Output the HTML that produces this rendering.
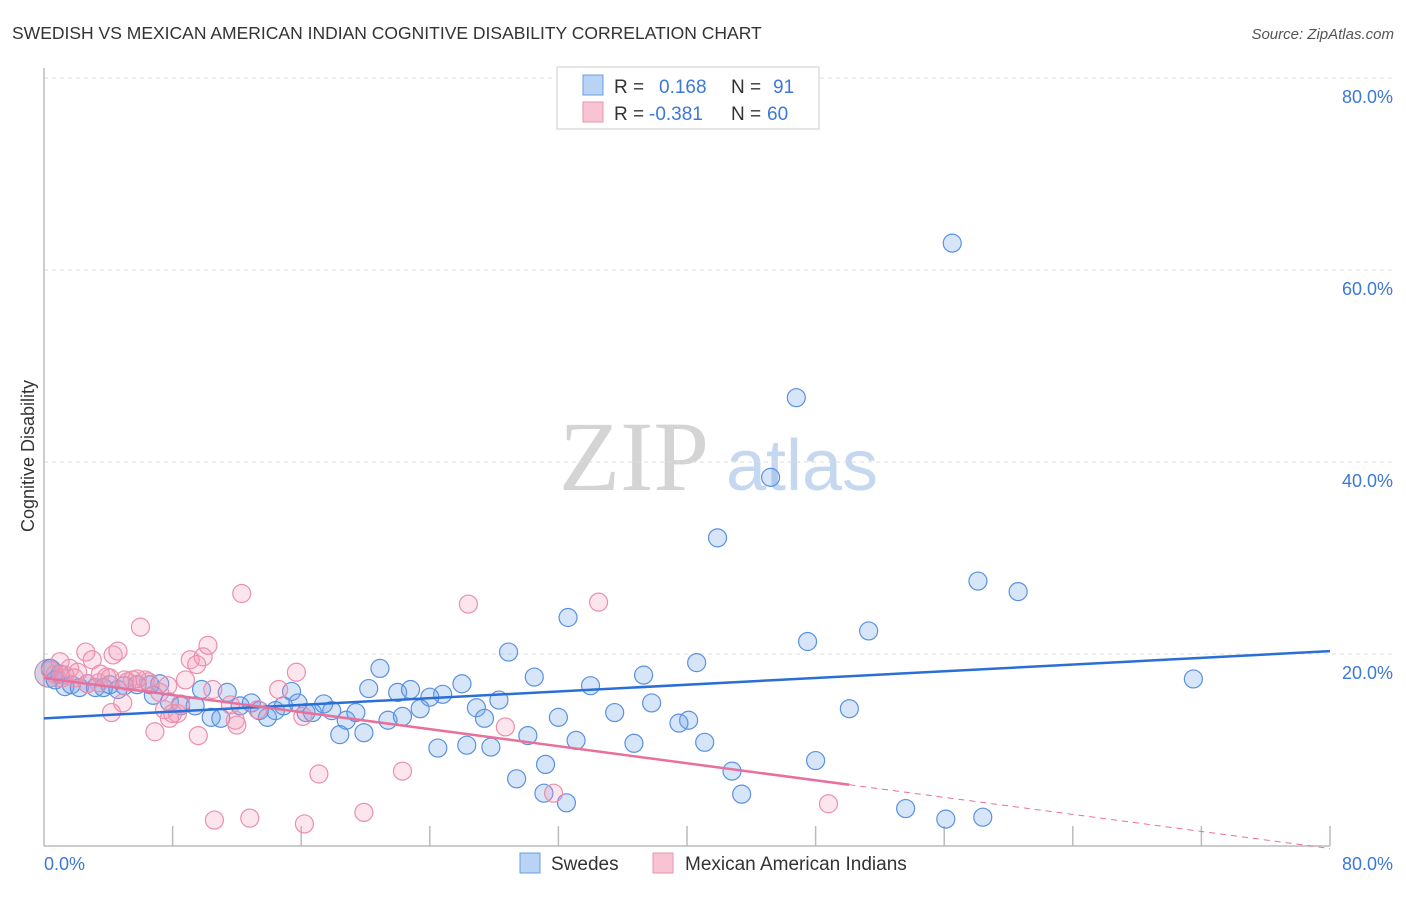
<!DOCTYPE html>
<html><head><meta charset="utf-8"><style>
body{margin:0;background:#fff;font-family:"Liberation Sans",sans-serif;}
svg text{font-family:"Liberation Sans",sans-serif;}
</style></head><body>
<svg id="chart" width="1406" height="892" viewBox="0 0 1406 892" xmlns="http://www.w3.org/2000/svg">
<text x="12" y="39" font-size="17.5" fill="#333">SWEDISH VS MEXICAN AMERICAN INDIAN COGNITIVE DISABILITY CORRELATION CHART</text>
<text x="1394" y="39" font-size="15" fill="#555" text-anchor="end" font-style="italic">Source: ZipAtlas.com</text>
<g>
<text x="634" y="490" font-size="100" fill="#d4d4d4" text-anchor="middle" style="font-family:'Liberation Serif',serif">ZIP</text>
<text x="802" y="490" font-size="72" fill="#c5d8f0" text-anchor="middle">atlas</text>
</g>
<g id="grid"></g>
<g id="axes"></g>
<g id="pts"></g>
<g id="trends"></g>
<g>
<rect x="557" y="67" width="262" height="62" fill="#fff" stroke="#ccc"/>
<rect x="583" y="75" width="20" height="20" fill="#b8d3f5" stroke="#6a9de0"/>
<rect x="583" y="102" width="20" height="20" fill="#f8c4d4" stroke="#e893ae"/>
<text x="614" y="93" font-size="19" fill="#333">R =</text>
<text x="659" y="93" font-size="19" fill="#3b78d8">0.168</text>
<text x="731" y="93" font-size="19" fill="#333">N =</text>
<text x="773" y="93" font-size="19" fill="#3b78d8">91</text>
<text x="614" y="120" font-size="19" fill="#333">R =</text>
<text x="649" y="120" font-size="19" fill="#3b78d8">-0.381</text>
<text x="731" y="120" font-size="19" fill="#333">N =</text>
<text x="767" y="120" font-size="19" fill="#3b78d8">60</text>
</g>
<g>
<rect x="520" y="853" width="20" height="20" fill="#b8d3f5" stroke="#6a9de0"/>
<text x="551" y="870" font-size="19" fill="#333">Swedes</text>
<rect x="653" y="853" width="20" height="20" fill="#f8c4d4" stroke="#e893ae"/>
<text x="685" y="870" font-size="19" fill="#333">Mexican American Indians</text>
</g>
<text transform="translate(34,456) rotate(-90)" font-size="18" fill="#333" text-anchor="middle">Cognitive Disability</text>
</svg>
<script>
const yTicks=[20,40,60,80];
const yTickLabels=["20.0%","40.0%","60.0%","80.0%"];
const xTickLabels=["0.0%","80.0%"];
const blueX=[56.5,46.8,45.2,41.9,58.1,60.6,32.6,51.3,47.5,28.9,40.6,20.9,30.5,37.3,71.5,34.0,26.0,20.2,22.0,22.8,24.8,24.0,28.3,37.8,26.9,23.4,27.4,32.0,35.5,40.1,39.5,50.1,30.1,33.1,36.7,41.1,24.5,26.3,27.8,31.2,48.0,42.8,29.4,31.1,32.5,43.4,53.6,56.1,58.4,0.4,0.7,1.0,1.3,1.7,2.2,2.7,3.2,3.7,4.1,4.6,5.0,5.8,6.6,7.2,6.8,7.8,8.5,9.4,9.8,10.4,11.0,11.4,12.2,12.9,13.4,13.9,14.4,14.9,15.4,15.8,16.3,16.7,17.4,17.9,18.8,18.4,19.4,19.9,21.4,22.3];
const blueY=[62.8,46.7,38.4,32.1,27.6,26.5,23.8,22.4,21.3,20.2,19.1,18.5,17.6,17.8,17.4,16.7,16.9,16.4,16.0,16.3,15.8,15.5,15.2,14.9,14.4,14.3,13.3,13.4,13.9,13.1,12.8,14.3,11.5,11.0,10.7,10.8,10.2,10.5,10.3,8.5,8.9,7.8,7.0,5.5,4.5,5.4,3.9,2.8,3.0,18.5,17.3,17.9,16.6,16.8,16.5,16.9,16.5,16.5,16.8,16.3,16.7,16.8,16.8,16.9,15.7,15.0,14.6,14.6,16.3,13.4,13.3,16.0,14.6,14.9,14.1,13.4,14.1,14.6,16.1,14.9,13.9,13.9,14.8,14.1,13.1,11.6,13.9,11.8,13.1,13.5];
const pinkX=[0.4,0.7,1.1,1.6,2.1,2.6,3.0,3.5,3.9,4.3,4.6,5.0,5.5,6.0,6.5,6.9,7.2,7.5,7.8,8.3,8.8,9.1,9.5,9.9,10.2,10.5,9.6,10.6,11.9,12.0,12.3,12.8,13.3,14.6,15.7,16.1,16.2,17.1,19.9,22.3,26.4,28.7,31.7,34.5,48.8,4.9,4.2,8.0,11.6,6.3,1.0,1.3,1.9,2.7,3.4,4.1,5.2,5.8,7.7,8.5];
const pinkY=[18.3,17.9,17.5,18.5,18.1,20.2,19.4,17.9,17.6,19.9,20.3,17.3,17.3,22.8,17.1,11.9,16.0,14.2,13.3,13.8,17.3,19.4,18.9,19.7,20.9,16.3,11.5,2.7,13.1,12.6,26.3,2.9,14.2,16.3,18.1,13.5,2.3,7.5,3.5,7.8,25.2,12.4,5.5,25.4,4.4,14.9,13.9,13.8,14.7,17.3,19.2,17.8,17.5,16.9,17.0,17.5,17.1,17.4,16.7,14.8];
const blueTrend=[13.3,20.3];
const pinkTrend=[17.5,-0.222];
const X0=44,X1=1330,Y0=846,Y1=78;
const sx=v=>X0+(X1-X0)*v/80, sy=v=>Y0-(Y0-Y1)*v/80;
const NS="http://www.w3.org/2000/svg";
function mk(tag,attrs,parent){const e=document.createElementNS(NS,tag);for(const k in attrs)e.setAttribute(k,attrs[k]);document.getElementById(parent).appendChild(e);return e;}
yTicks.forEach((t,i)=>{
 const l=mk('line',{x1:X0,x2:1393,y1:sy(t),y2:sy(t),stroke:'#ddd','stroke-dasharray':'4,4'},'grid');
 
 
 const tx=mk('text',{x:1393,y:sy(t)+25,'font-size':18,fill:'#3b78d8','text-anchor':'end'},'grid');
 tx.textContent=yTickLabels[i];
 
 
});
let a=mk('line',{x1:X0,x2:X0,y1:68,y2:Y0,stroke:'#bbb','stroke-width':1.5},'axes');


a=mk('line',{x1:X0,x2:X1,y1:Y0,y2:Y0,stroke:'#bbb','stroke-width':1.5},'axes');


for(let i=1;i<=10;i++){const t=mk('line',{x1:sx(i*8),x2:sx(i*8),y1:826,y2:Y0,stroke:'#bbb','stroke-width':1.5},'axes');
 
 }
let xl=mk('text',{x:44,y:870,'font-size':18,fill:'#3b78d8'},'axes');xl.textContent=xTickLabels[0];


xl=mk('text',{x:1393,y:870,'font-size':18,fill:'#3b78d8','text-anchor':'end'},'axes');xl.textContent=xTickLabels[1];


let c=mk('circle',{cx:sx(0.3),cy:sy(18),r:14,fill:'rgba(150,120,170,0.35)',stroke:'#b08ab0'},'pts');


blueX.forEach((x,i)=>{const p=mk('circle',{cx:sx(x),cy:sy(blueY[i]),r:9,fill:'rgba(110,160,235,0.28)',stroke:'#5a91e0','stroke-width':1.2},'pts');
 
 });
pinkX.forEach((x,i)=>{const p=mk('circle',{cx:sx(x),cy:sy(pinkY[i]),r:9,fill:'rgba(245,150,180,0.25)',stroke:'#ea8fae','stroke-width':1.2},'pts');
 
 });
let t=mk('line',{x1:sx(0),y1:sy(blueTrend[0]),x2:sx(80),y2:sy(blueTrend[1]),stroke:'#2a6fd6','stroke-width':2.5},'trends');


const pe=50.1, pf=x=>pinkTrend[0]+pinkTrend[1]*x;
t=mk('line',{x1:sx(0),y1:sy(pf(0)),x2:sx(pe),y2:sy(pf(pe)),stroke:'#e8709a','stroke-width':2.5},'trends');


t=mk('line',{x1:sx(pe),y1:sy(pf(pe)),x2:sx(80),y2:sy(pf(80)),stroke:'#e8709a','stroke-width':1,'stroke-dasharray':'6,5'},'trends');


</script>
</body></html>
